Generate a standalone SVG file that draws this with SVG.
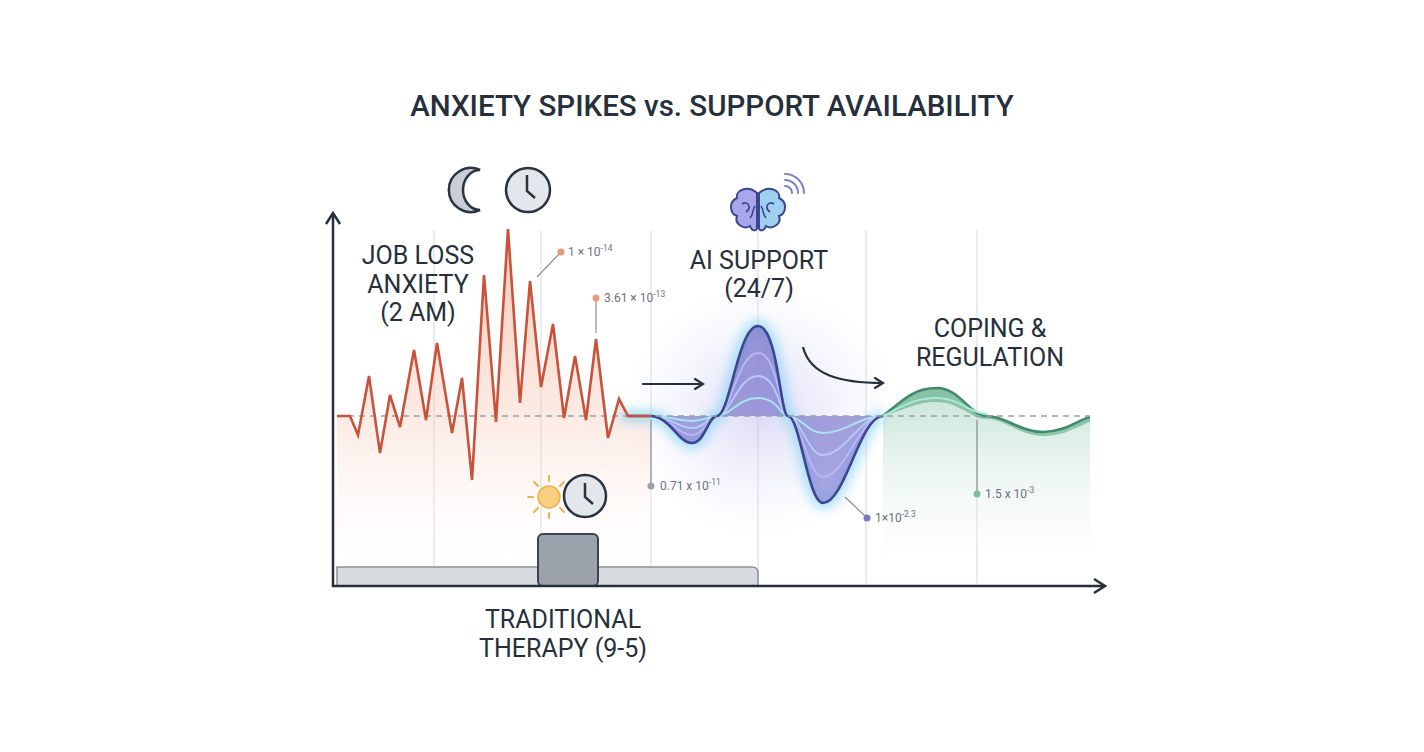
<svg xmlns="http://www.w3.org/2000/svg" width="1424" height="752" viewBox="0 0 1424 752">
<style>
text{font-family:Roboto,"Liberation Sans",sans-serif;fill:#26303c}
.lbl{font-size:25px;text-anchor:middle}
.small{font-size:12px;fill:#6b7380}
.grid{stroke:#dcdfe3;stroke-width:1.2}
.ax{stroke:#26303c;stroke-width:2.5;fill:none}
.icon{stroke:#2a3340;stroke-width:2.5}
</style>
<defs>
<linearGradient id="redf" x1="0" y1="0" x2="0" y2="1"><stop offset="0" stop-color="#f09a7c" stop-opacity="0.55"/><stop offset="0.55" stop-color="#f7c9b5" stop-opacity="0.35"/><stop offset="1" stop-color="#fff" stop-opacity="0"/></linearGradient>
<linearGradient id="grnf" x1="0" y1="0" x2="0" y2="1"><stop offset="0" stop-color="#7fc3a3" stop-opacity="0.45"/><stop offset="1" stop-color="#fff" stop-opacity="0"/></linearGradient>
<linearGradient id="purf" x1="0" y1="0" x2="0" y2="1"><stop offset="0" stop-color="#7b74c9"/><stop offset="1" stop-color="#8f8ed8"/></linearGradient>
<radialGradient id="haze" cx="0.5" cy="0.5" r="0.5"><stop offset="0" stop-color="#b9b3ec" stop-opacity="0.5"/><stop offset="1" stop-color="#dfe3f7" stop-opacity="0"/></radialGradient>
<filter id="glow" x="-20%" y="-20%" width="140%" height="140%"><feGaussianBlur stdDeviation="6"/></filter>
<marker id="chev" viewBox="0 0 12 12" refX="10" refY="6" markerWidth="12" markerHeight="12" orient="auto" markerUnits="userSpaceOnUse"><path d="M2,1 L10,6 L2,11" fill="none" stroke="#26303c" stroke-width="2.2" stroke-linecap="round"/></marker>
</defs>
<rect width="1424" height="752" fill="#fff"/>
<text x="712" y="116" text-anchor="middle" font-size="29.5" font-weight="500">ANXIETY SPIKES vs. SUPPORT AVAILABILITY</text>

<!-- grid -->
<g>
<line class="grid" x1="434" y1="230" x2="434" y2="586"/><line class="grid" x1="541" y1="230" x2="541" y2="586"/>
<line class="grid" x1="651" y1="230" x2="651" y2="586"/><line class="grid" x1="758" y1="230" x2="758" y2="586"/>
<line class="grid" x1="866" y1="230" x2="866" y2="586"/><line class="grid" x1="977" y1="230" x2="977" y2="586"/>
</g>

<!-- fills -->
<polygon fill="url(#redf)" points="337,416 350,416 358,435 369,376 380,453 390,395 400,427 414,350 426,420 437,343 452,433 462,378 472,480 484,275 496,422 508,229 520,403 530,281 541,387 553,324 564,418 575,356 586,420 596,339 608,438 619,399 628,416 650,416 650,586 337,586"/>
<ellipse cx="760" cy="410" rx="140" ry="130" fill="url(#haze)"/>
<path d="M883,416 C905,398 915,388 937,388 C960,388 970,416 987,416 C1005,416 1020,432 1043,432 C1065,432 1078,420 1090,417 L1090,586 L883,586 Z" fill="url(#grnf)"/>

<!-- blue wave -->
<g>
<path d="M620,416 L650,416 C670,416 678,443 692,443 C705,443 708,416 717,416 C730,416 738,326 758,326 C778,326 780,416 788,416 C800,416 808,503 823,503 C845,503 860,416 883,416" fill="none" stroke="#7fd0f5" stroke-width="10" filter="url(#glow)" opacity="0.8"/>
<path d="M650,416 C670,416 678,443 692,443 C705,443 708,416 717,416 C730,416 738,326 758,326 C778,326 780,416 788,416 C800,416 808,503 823,503 C845,503 860,416 883,416 Z" fill="url(#purf)" opacity="0.75"/>
<path d="M650,416 C670,416 678,435 692,435 C705,435 708,416 717,416 C730,416 738,353 758,353 C778,353 780,416 788,416 C800,416 808,477 823,477 C845,477 860,416 883,416" fill="none" stroke="#b8b6f5" stroke-width="2"/>
<path d="M650,416 C670,416 678,428 692,428 C705,428 708,416 717,416 C730,416 738,376 758,376 C778,376 780,416 788,416 C800,416 808,455 823,455 C845,455 860,416 883,416" fill="none" stroke="#b9c8f8" stroke-width="2"/>
<path d="M650,416 C670,416 678,421 692,421 C705,421 708,416 717,416 C730,416 738,398 758,398 C778,398 780,416 788,416 C800,416 808,433 823,433 C845,433 860,416 883,416" fill="none" stroke="#a9e4ef" stroke-width="2"/>
<path d="M628,416 L650,416 C670,416 678,443 692,443 C705,443 708,416 717,416 C730,416 738,326 758,326 C778,326 780,416 788,416 C800,416 808,503 823,503 C845,503 860,416 883,416" fill="none" stroke="#3c4590" stroke-width="2.6"/>
</g>
<!-- green wave -->
<path d="M883,416 C905,398 915,388 937,388 C960,388 970,416 987,416 C1005,416 1020,432 1043,432 C1065,432 1078,420 1090,417 L1090,422 C1078,426 1065,436 1043,436 C1020,436 1005,419 987,419 C970,419 960,402 937,402 C915,402 905,410 883,416 Z" fill="#5fa985" opacity="0.6"/>
<path d="M883,416 C905,398 915,388 937,388 C960,388 970,416 987,416 C1005,416 1020,432 1043,432 C1065,432 1078,420 1090,417" fill="none" stroke="#3f8a68" stroke-width="2.6"/>
<path d="M883,416 C905,405 915,398 937,398 C960,398 970,414 987,414" fill="none" stroke="#a8ecd8" stroke-width="2"/>

<line x1="337" y1="416" x2="1090" y2="416" stroke="#9aa0a8" stroke-width="1.3" stroke-dasharray="6,5"/>

<!-- red line -->
<polyline fill="none" stroke="#c8533a" stroke-width="2.6" stroke-linejoin="miter" points="337,416 350,416 358,435 369,376 380,453 390,395 400,427 414,350 426,420 437,343 452,433 462,378 472,480 484,275 496,422 508,229 520,403 530,281 541,387 553,324 564,418 575,356 586,420 596,339 608,438 619,399 628,416 650,416"/>

<!-- annotation labels -->
<g>
<line x1="537" y1="277" x2="560" y2="253" stroke="#8a8f96" stroke-width="1.2"/>
<circle cx="561" cy="252" r="3.5" fill="#e59a78"/>
<text class="small" x="568" y="256">1 × 10<tspan font-size="8.5" dy="-5">-14</tspan></text>
<line x1="596" y1="333" x2="596" y2="300" stroke="#8a8f96" stroke-width="1.2"/>
<circle cx="596" cy="298" r="3.5" fill="#e59a78"/>
<text class="small" x="604" y="302">3.61 × 10<tspan font-size="8.5" dy="-5">-13</tspan></text>
<line x1="651" y1="420" x2="651" y2="485" stroke="#8a8f96" stroke-width="1.2"/>
<circle cx="651" cy="486" r="3.5" fill="#9aa0a8"/>
<text class="small" x="660" y="490">0.71 x 10<tspan font-size="8.5" dy="-5">-11</tspan></text>
<line x1="845" y1="497" x2="865" y2="516" stroke="#8a8f96" stroke-width="1.2"/>
<circle cx="867" cy="518" r="3.5" fill="#7a7cc0"/>
<text class="small" x="875" y="522">1×10<tspan font-size="8.5" dy="-5">-2.3</tspan></text>
<line x1="977" y1="420" x2="977" y2="493" stroke="#8a8f96" stroke-width="1.2"/>
<circle cx="977" cy="494" r="3.5" fill="#7bbf9c"/>
<text class="small" x="985" y="498">1.5 x 10<tspan font-size="8.5" dy="-5">-3</tspan></text>
</g>

<!-- arrows -->
<g>
<line x1="642" y1="384" x2="703" y2="384" stroke="#26303c" stroke-width="2.2" marker-end="url(#chev)"/>
<path d="M803,347 C810,375 840,383 883,383" fill="none" stroke="#26303c" stroke-width="2.2" marker-end="url(#chev)"/>
</g>

<!-- therapy bar -->
<g id="therapy">
<path d="M337,567 L752,567 Q758,567 758,573 L758,586 L337,586 Z" fill="#d8dbe0" stroke="#8a9099" stroke-width="1.5"/>
<rect x="538" y="534" width="60" height="52" rx="5" fill="#9ba2ab" stroke="#3a4350" stroke-width="2"/>
<text class="lbl" x="563" y="628">TRADITIONAL</text>
<text class="lbl" x="563" y="657">THERAPY (9-5)</text>
</g>
<!-- sun clock -->
<g id="sunclock">
<circle cx="549" cy="497" r="11" fill="#f7cf7e" stroke="#e8b34f" stroke-width="1.5"/>
<g stroke="#e8b34f" stroke-width="2" stroke-linecap="round">
<line x1="533" y1="497" x2="528" y2="497"/><line x1="538" y1="486" x2="534" y2="482"/><line x1="549" y1="481" x2="549" y2="476"/><line x1="560" y1="486" x2="564" y2="482"/><line x1="538" y1="508" x2="534" y2="512"/><line x1="549" y1="513" x2="549" y2="518"/><line x1="560" y1="508" x2="564" y2="512"/>
</g>
<circle cx="585" cy="496" r="21" fill="#e3e6ea" class="icon"/>
<path d="M585,483 L585,497 L593,504" fill="none" class="icon"/>
</g>

<!-- moon clock -->
<g id="moonclock">
<path d="M480,170 A22,22 0 1 0 480,210 A17,20 0 1 1 480,170 Z" fill="#c9ced6" class="icon"/>
<circle cx="528" cy="190" r="22" fill="#e3e6ea" class="icon"/>
<path d="M527,175 L527,191 L535,198" fill="none" class="icon"/>
</g>

<!-- brain -->
<g id="brain">
<path d="M757,193 C748,185 735,190 737,198 C728,202 730,214 737,216 C734,224 744,230 750,226 C752,232 757,231 757,228 Z" fill="#a9a6ec" stroke="#3c4590" stroke-width="2"/>
<path d="M759,193 C768,185 781,190 779,198 C788,202 786,214 779,216 C782,224 772,230 766,226 C764,232 759,231 759,228 Z" fill="#9fd0ef" stroke="#3c4590" stroke-width="2"/>
<path d="M742,204 C748,200 752,208 746,212 M750,218 C754,214 752,210 755,206 M774,204 C768,200 764,208 770,212 M766,218 C762,214 764,210 761,206" fill="none" stroke="#3c4590" stroke-width="1.6"/>
<path d="M785,186 A7,7 0 0 1 792,193 M785,180 A13,13 0 0 1 798,193 M785,174 A19,19 0 0 1 804,193" fill="none" stroke="#7b84c8" stroke-width="2" stroke-linecap="round"/>
</g>

<!-- labels -->
<g id="joblabel"><text class="lbl" x="418" y="264">JOB LOSS</text><text class="lbl" x="418" y="293">ANXIETY</text><text class="lbl" x="418" y="321">(2 AM)</text></g>
<g id="ailabel"><text class="lbl" x="759" y="269">AI SUPPORT</text><text class="lbl" x="759" y="297">(24/7)</text></g>
<g id="copinglabel"><text class="lbl" x="990" y="337">COPING &amp;</text><text class="lbl" x="990" y="366">REGULATION</text></g>

<!-- axes -->
<g>
<path class="ax" d="M333,214 L333,586 L1104,586"/>
<path class="ax" d="M326,224 L333,213 L340,224 M1094,579 L1105,586 L1094,593"/>
</g>
</svg>
